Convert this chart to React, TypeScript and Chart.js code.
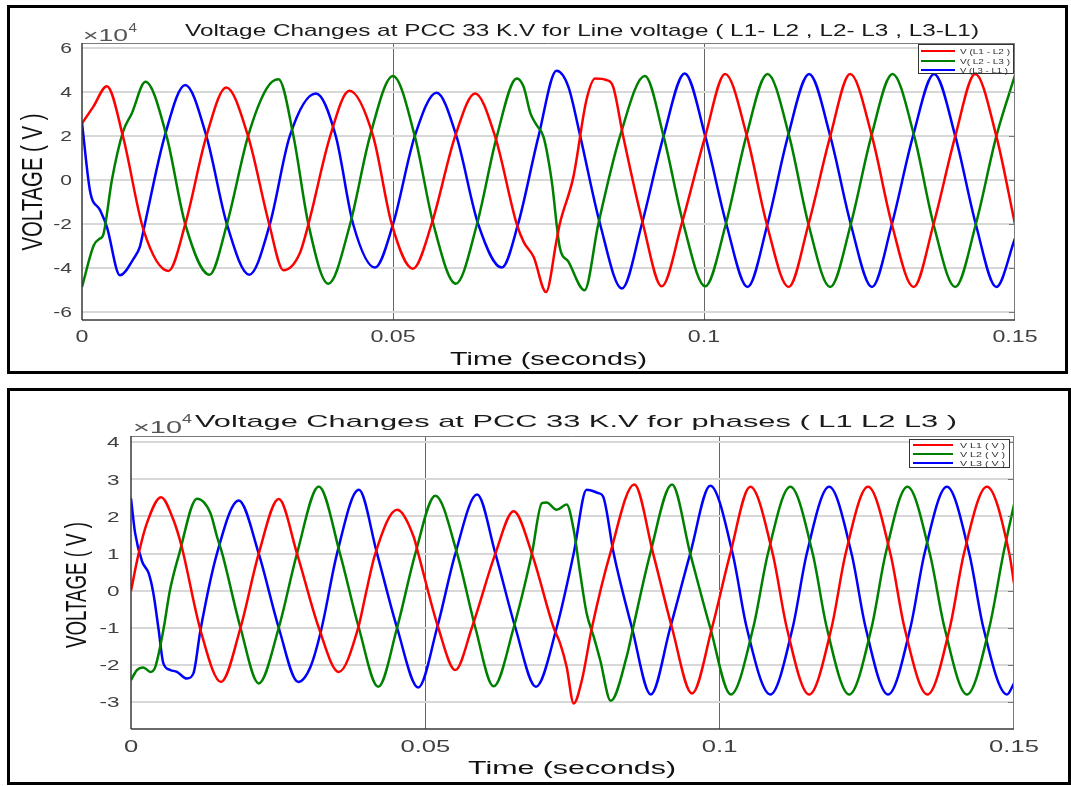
import React, { useEffect, useRef } from 'react';
import { Chart, registerables } from 'chart.js';

Chart.register(...registerables);

// ---------- Text ----------
const TOP_TITLE = 'Voltage Changes at PCC 33 K.V for Line voltage ( L1- L2 , L2- L3 , L3-L1)';
const BOTTOM_TITLE = 'Voltage Changes at PCC 33 K.V for phases ( L1 L2 L3 )';
const X_TITLE = 'Time (seconds)';
const Y_TITLE = 'VOLTAGE ( V )';
const TOP_LEGEND = ['V (L1 - L2 )', 'V( L2 - L3 )', 'V (L3 - L1 )'];
const BOTTOM_LEGEND = ['V L1 ( V )', 'V L2 ( V )', 'V L3 ( V )'];

// ---------- Ticks ----------
const X_TICKS = [0, 0.05, 0.1, 0.15];
const X_TICK_LABELS = ['0', '0.05', '0.1', '0.15'];
const TOP_Y_TICKS = [-6, -4, -2, 0, 2, 4, 6];
const BOTTOM_Y_TICKS = [-3, -2, -1, 0, 1, 2, 3, 4];

// ---------- Data: [time (s), voltage (x10^4 V)] ----------
const topL1L2: number[][] = [
  [0, 2.58], [0.0018, 3.33], [0.004, 4.27], [0.0066, 1.97], [0.0099, -2.27], [0.0139, -4.12],
  [0.0166, -2.0], [0.02, 2.0], [0.0232, 4.21], [0.0267, 2.0], [0.0301, -2.0], [0.0324, -4.09],
  [0.035, -3.33], [0.0364, -2.0], [0.0399, 2.0], [0.043, 4.06], [0.0468, 2.0], [0.0498, -2.0],
  [0.0532, -4.02], [0.0562, -2.0], [0.06, 2.0], [0.0632, 3.94], [0.0664, 2.0], [0.0699, -2.0],
  [0.071, -2.8], [0.0726, -3.48], [0.0746, -5.08], [0.0763, -2.73], [0.0768, -2.0], [0.079, 0.15],
  [0.0811, 3.64], [0.0825, 4.62], [0.0843, 4.55], [0.0854, 4.24], [0.087, 2.0], [0.0902, -2.0],
  [0.0932, -4.82], [0.0964, -2.0], [0.1002, 2.0], [0.1034, 4.82], [0.1069, 2.0], [0.1101, -2.0],
  [0.1136, -4.85], [0.1168, -2.0], [0.1203, 2.0], [0.1235, 4.82], [0.127, 2.0], [0.1302, -2.0],
  [0.1337, -4.85], [0.1369, -2.0], [0.1404, 2.0], [0.1436, 4.82], [0.147, 2.0], [0.15, -2.0],
];
const topL2L3: number[][] = [
  [0, -4.85], [0.0019, -2.95], [0.0029, -2.65], [0.0034, -2.5], [0.0048, 0], [0.0066, 2.2],
  [0.008, 3.03], [0.0102, 4.47], [0.0136, 2.0], [0.0166, -2.0], [0.0205, -4.29], [0.0233, -2.0],
  [0.0267, 2.0], [0.0297, 4.17], [0.0316, 4.58], [0.034, 2.0], [0.0364, -2.0], [0.0396, -4.7],
  [0.0431, -2.0], [0.0463, 2.0], [0.05, 4.73], [0.0535, 2.0], [0.0565, -2.0], [0.0601, -4.7],
  [0.0635, -2.0], [0.0667, 2.0], [0.0699, 4.62], [0.071, 4.24], [0.0721, 3.03], [0.0731, 2.5],
  [0.0742, 1.97], [0.0755, 0], [0.0768, -3.03], [0.0782, -3.7], [0.0808, -5.0], [0.083, -2.0],
  [0.0865, 2.0], [0.0905, 4.73], [0.0935, 2.0], [0.0967, -2.0], [0.1002, -4.82], [0.1035, -2.0],
  [0.1068, 2.0], [0.1102, 4.82], [0.1137, 2.0], [0.1168, -2.0], [0.1203, -4.85], [0.1236, -2.0],
  [0.1269, 2.0], [0.1303, 4.82], [0.1338, 2.0], [0.1369, -2.0], [0.1404, -4.85], [0.1437, -2.0],
  [0.147, 2.0], [0.15, 4.77],
];
const topL3L1: number[][] = [
  [0, 2.6], [0.0013, -0.5], [0.0029, -1.36], [0.004, -2.12], [0.0061, -4.32], [0.0083, -3.56],
  [0.0093, -3.03], [0.0101, -2.0], [0.0133, 2.0], [0.0166, 4.32], [0.02, 2.0], [0.0233, -2.0],
  [0.0269, -4.29], [0.0302, -2.0], [0.0334, 2.0], [0.0376, 3.94], [0.0408, 2.0], [0.0436, -2.0],
  [0.0471, -3.97], [0.05, -2.0], [0.0535, 2.0], [0.057, 3.97], [0.0602, 2.0], [0.0637, -2.0],
  [0.0675, -3.97], [0.0701, -2.0], [0.0734, 2.0], [0.0763, 4.97], [0.0782, 4.24], [0.0801, 2.0],
  [0.0833, -2.0], [0.0868, -4.92], [0.09, -2.0], [0.0935, 2.0], [0.0969, 4.85], [0.1002, 2.0],
  [0.1036, -2.0], [0.107, -4.85], [0.1102, -2.0], [0.1135, 2.0], [0.1169, 4.82], [0.1203, 2.0],
  [0.1236, -2.0], [0.127, -4.85], [0.1302, -2.0], [0.1336, 2.0], [0.137, 4.82], [0.1404, 2.0],
  [0.1437, -2.0], [0.147, -4.85], [0.15, -2.65],
];

const botL1: number[][] = [
  [0, 0], [0.0013, 1.0], [0.0027, 1.82], [0.0051, 2.52], [0.0072, 1.91], [0.0086, 1.19],
  [0.0118, -1.06], [0.0153, -2.46], [0.0186, -1.0], [0.0217, 1.0], [0.0251, 2.47], [0.0282, 1.0],
  [0.0319, -1.0], [0.0353, -2.19], [0.0386, -1.0], [0.04, 0], [0.0415, 1.0], [0.0452, 2.18],
  [0.048, 1.46], [0.0488, 1.0], [0.0522, -1.0], [0.0551, -2.14], [0.0579, -1.0], [0.0619, 1.0],
  [0.065, 2.14], [0.0681, 1.0], [0.0718, -1.0], [0.0729, -1.42], [0.074, -2.05], [0.0752, -3.04],
  [0.0766, -2.41], [0.0783, -1.0], [0.0814, 1.0], [0.0855, 2.86], [0.0887, 1.0], [0.0919, -1.0],
  [0.0953, -2.77], [0.0987, -1.0], [0.1018, 1.0], [0.1052, 2.8], [0.109, 1.0], [0.1114, -1.0],
  [0.1152, -2.8], [0.119, -1.0], [0.1214, 1.0], [0.1252, 2.8], [0.129, 1.0], [0.1314, -1.0],
  [0.1353, -2.8], [0.1391, -1.0], [0.1415, 1.0], [0.1454, 2.8], [0.1492, 1.0], [0.15, 0.2],
];
const botL2: number[][] = [
  [0, -2.41], [0.001, -2.14], [0.0021, -2.07], [0.0033, -2.19], [0.0041, -2.07], [0.0055, -1.06],
  [0.0066, 0], [0.0082, 1.0], [0.0112, 2.48], [0.0135, 2.09], [0.0146, 1.46], [0.0155, 1.0],
  [0.0186, -1.0], [0.0217, -2.5], [0.0251, -1.0], [0.0282, 1.0], [0.0319, 2.81], [0.0355, 1.0],
  [0.0387, -1.0], [0.042, -2.59], [0.0452, -1.0], [0.0483, 1.0], [0.0517, 2.56], [0.0554, 1.0],
  [0.0585, -1.0], [0.0616, -2.58], [0.065, -1.0], [0.0681, 1.0], [0.0698, 2.36], [0.0706, 2.38],
  [0.0723, 2.18], [0.074, 2.32], [0.0752, 1.64], [0.0763, 0.47], [0.0774, -0.61], [0.0786, -1.24],
  [0.0797, -1.87], [0.0815, -2.97], [0.0842, -1.78], [0.0853, -1.0], [0.0882, 1.0], [0.0919, 2.86],
  [0.095, 1.0], [0.0984, -1.0], [0.1019, -2.8], [0.1057, -1.0], [0.1082, 1.0], [0.112, 2.8],
  [0.1158, 1.0], [0.1182, -1.0], [0.122, -2.8], [0.1258, -1.0], [0.1282, 1.0], [0.1319, 2.8],
  [0.1357, 1.0], [0.1382, -1.0], [0.142, -2.8], [0.1458, -1.0], [0.1482, 1.0], [0.15, 2.32],
];
const botL3: number[][] = [
  [0, 2.49], [0.0007, 1.55], [0.0019, 0.78], [0.003, 0.47], [0.0038, -0.07], [0.0047, -1.06],
  [0.0055, -1.96], [0.0067, -2.14], [0.0078, -2.19], [0.0095, -2.37], [0.0106, -2.23], [0.0118, -1.06],
  [0.0146, 1.0], [0.0183, 2.43], [0.0217, 1.0], [0.0251, -1.0], [0.0284, -2.46], [0.0305, -2.05],
  [0.0324, -1.0], [0.035, 1.0], [0.0387, 2.72], [0.0418, 1.0], [0.0452, -1.0], [0.0488, -2.61],
  [0.052, -1.0], [0.0551, 1.0], [0.0588, 2.59], [0.0619, 1.0], [0.0653, -1.0], [0.0688, -2.59],
  [0.0723, -1.0], [0.0752, 1.0], [0.0774, 2.72], [0.0794, 2.63], [0.0802, 2.54], [0.082, 1.0],
  [0.0851, -1.0], [0.0883, -2.8], [0.0916, -1.0], [0.095, 1.0], [0.0984, 2.83], [0.1022, 1.0],
  [0.1046, -1.0], [0.1086, -2.8], [0.1124, -1.0], [0.1148, 1.0], [0.1186, 2.8], [0.1224, 1.0],
  [0.1248, -1.0], [0.1286, -2.8], [0.1324, -1.0], [0.1348, 1.0], [0.1386, 2.8], [0.1424, 1.0],
  [0.1448, -1.0], [0.1488, -2.8], [0.15, -2.5],
];

const COLORS = ['#ff0000', '#008000', '#0000ff'];
const FONT = '"Liberation Sans", Arial, Helvetica, sans-serif';

function drawFit(
  ctx: CanvasRenderingContext2D, text: string, x: number, y: number, size: number,
  o: { w?: number; sx?: number; align?: CanvasTextAlign; base?: CanvasTextBaseline; color?: string; rot?: boolean }
) {
  ctx.save();
  ctx.font = `${size}px ${FONT}`;
  const m = ctx.measureText(text).width;
  const sx = o.w ? o.w / m : (o.sx ?? 1);
  ctx.translate(x, y);
  if (o.rot) ctx.rotate(-Math.PI / 2);
  ctx.scale(sx, 1);
  ctx.textAlign = o.align ?? 'left';
  ctx.textBaseline = o.base ?? 'alphabetic';
  ctx.fillStyle = o.color ?? '#222';
  ctx.fillText(text, 0, 0);
  ctx.restore();
}

type Cfg = {
  oy: number; h: number;
  area: { l: number; t: number; r: number; b: number };
  yMin: number; yMax: number; yTicks: number[];
  series: number[][][]; labels: string[];
  title: string; titleX: number; titleBase: number; titleW: number;
  exp: { x: number; base: number; w: number; sx: number; sbase: number; sw: number; ssize: number };
  xTick: { base: number; size: number; sx: number };
  yTick: { right: number; size: number; sx: number };
  xTitle: { cx: number; base: number; w: number };
  yTitle: { bx: number; cy: number; len: number };
  legend: { x0: number; y0: number; x1: number; y1: number; lx0: number; lx1: number; rows: number[]; tx: number; tw: number[] };
};

const TOP: Cfg = {
  oy: 0, h: 380,
  area: { l: 82, t: 43, r: 1015, b: 320 },
  yMin: -6.35, yMax: 6.23, yTicks: TOP_Y_TICKS,
  series: [topL1L2, topL2L3, topL3L1], labels: TOP_LEGEND,
  title: TOP_TITLE, titleX: 185, titleBase: 36, titleW: 794,
  exp: { x: 83, base: 40.5, w: 45, sx: 128.5, sbase: 32, sw: 8.5, ssize: 12 },
  xTick: { base: 342, size: 16, sx: 1.45 },
  yTick: { right: 72, size: 15, sx: 1.4 },
  xTitle: { cx: 548.5, base: 365, w: 197 },
  yTitle: { bx: 41.7, cy: 182, len: 137 },
  legend: { x0: 918, y0: 44, x1: 1014, y1: 74, lx0: 921, lx1: 955, rows: [51, 61, 70], tx: 960, tw: [50, 50, 48] },
};

const BOTTOM: Cfg = {
  oy: 380, h: 406,
  area: { l: 131, t: 436, r: 1014, b: 729 },
  yMin: -3.73, yMax: 4.17, yTicks: BOTTOM_Y_TICKS,
  series: [botL1, botL2, botL3], labels: BOTTOM_LEGEND,
  title: BOTTOM_TITLE, titleX: 195, titleBase: 427, titleW: 762,
  exp: { x: 133, base: 432.5, w: 49, sx: 182, sbase: 422.5, sw: 10, ssize: 13 },
  xTick: { base: 752, size: 16, sx: 1.6 },
  yTick: { right: 119.5, size: 15, sx: 1.5 },
  xTitle: { cx: 572, base: 774, w: 208 },
  yTitle: { bx: 86, cy: 585, len: 126 },
  legend: { x0: 909, y0: 439, x1: 1010, y1: 468, lx0: 913, lx1: 953, rows: [445, 454, 463], tx: 960, tw: [45, 45, 45] },
};

function makeDeco(cfg: Cfg) {
  return {
    id: 'deco',
    afterDraw(chart: any) {
      const ctx: CanvasRenderingContext2D = chart.ctx;
      const oy = cfg.oy;
      const xs = chart.scales.x;
      const ys = chart.scales.y;
      const a = chart.chartArea;
      ctx.save();
      ctx.lineWidth = 1;
      ctx.strokeStyle = '#7a7a7a';
      ctx.beginPath();
      ctx.moveTo(a.left, a.top + 0.5); ctx.lineTo(a.right, a.top + 0.5);
      ctx.moveTo(a.right - 0.5, a.top); ctx.lineTo(a.right - 0.5, a.bottom);
      ctx.stroke();
      ctx.lineWidth = 1.5;
      ctx.strokeStyle = '#3a3a3a';
      ctx.beginPath();
      ctx.moveTo(a.left, a.top); ctx.lineTo(a.left, a.bottom);
      ctx.moveTo(a.left, a.bottom); ctx.lineTo(a.right, a.bottom);
      ctx.stroke();
      ctx.lineWidth = 1;
      ctx.strokeStyle = '#777';
      ctx.beginPath();
      cfg.yTicks.forEach((v) => {
        const py = Math.round(ys.getPixelForValue(v)) + 0.5;
        ctx.moveTo(a.right - 6, py); ctx.lineTo(a.right, py);
      });
      ctx.stroke();
      ctx.restore();

      X_TICKS.forEach((v, i) => {
        drawFit(ctx, X_TICK_LABELS[i], xs.getPixelForValue(v), cfg.xTick.base - oy, cfg.xTick.size,
          { sx: cfg.xTick.sx, align: 'center', color: '#404040' });
      });
      cfg.yTicks.forEach((v) => {
        drawFit(ctx, String(v), cfg.yTick.right, ys.getPixelForValue(v) + 1, cfg.yTick.size,
          { sx: cfg.yTick.sx, align: 'right', base: 'middle', color: '#404040' });
      });
      drawFit(ctx, X_TITLE, cfg.xTitle.cx, cfg.xTitle.base - oy, 18, { w: cfg.xTitle.w, align: 'center', color: '#111' });
      drawFit(ctx, Y_TITLE, cfg.yTitle.bx, cfg.yTitle.cy - oy, 29, { w: cfg.yTitle.len, align: 'center', color: '#111', rot: true });
      drawFit(ctx, cfg.title, cfg.titleX, cfg.titleBase - oy, 17, { w: cfg.titleW, color: '#1a1a1a' });
      drawFit(ctx, '\u00d710', cfg.exp.x, cfg.exp.base - oy, 17, { w: cfg.exp.w, color: '#555' });
      drawFit(ctx, '4', cfg.exp.sx, cfg.exp.sbase - oy, cfg.exp.ssize, { w: cfg.exp.sw, color: '#555' });

      const L = cfg.legend;
      ctx.save();
      ctx.fillStyle = '#fff';
      ctx.fillRect(L.x0, L.y0 - oy, L.x1 - L.x0, L.y1 - L.y0);
      ctx.strokeStyle = '#333';
      ctx.lineWidth = 1;
      ctx.strokeRect(L.x0 + 0.5, L.y0 - oy + 0.5, L.x1 - L.x0 - 1, L.y1 - L.y0 - 1);
      ctx.lineWidth = 2;
      cfg.labels.forEach((lab, i) => {
        const ry = L.rows[i] - oy;
        ctx.strokeStyle = COLORS[i];
        ctx.beginPath();
        ctx.moveTo(L.lx0, ry); ctx.lineTo(L.lx1, ry);
        ctx.stroke();
        drawFit(ctx, lab, L.tx, ry + 0.5, 8, { w: L.tw[i], base: 'middle', color: '#333' });
      });
      ctx.restore();
    },
  };
}

function Panel({ cfg }: { cfg: Cfg }) {
  const ref = useRef<HTMLCanvasElement>(null);
  useEffect(() => {
    const canvas = ref.current!;
    const chart = new Chart(canvas, {
      type: 'line',
      data: {
        datasets: cfg.series.map((s, i) => ({
          label: cfg.labels[i],
          data: s.map(([x, y]) => ({ x, y })),
          borderColor: COLORS[i],
          backgroundColor: COLORS[i],
          borderWidth: 2.5,
          pointRadius: 0,
          fill: false,
          cubicInterpolationMode: 'monotone' as const,
        })),
      },
      options: {
        animation: false,
        responsive: false,
        devicePixelRatio: 1,
        events: [],
        layout: {
          padding: {
            left: cfg.area.l,
            top: cfg.area.t - cfg.oy,
            right: 1071 - cfg.area.r,
            bottom: cfg.oy + cfg.h - cfg.area.b,
          },
        },
        plugins: {
          legend: { display: false },
          title: { display: false },
          tooltip: { enabled: false },
        },
        scales: {
          x: {
            type: 'linear',
            min: 0,
            max: 0.15,
            ticks: { display: false },
            border: { display: false },
            grid: {
              drawTicks: false,
              lineWidth: 1,
              color: (c: any) => {
                const v = c.tick ? c.tick.value : -1;
                return Math.abs(v - 0.05) < 1e-9 || Math.abs(v - 0.1) < 1e-9 ? '#666' : 'rgba(0,0,0,0)';
              },
            },
            afterBuildTicks: (ax: any) => { ax.ticks = X_TICKS.map((value) => ({ value })); },
            afterFit: (ax: any) => { ax.height = 0; },
          },
          y: {
            type: 'linear',
            min: cfg.yMin,
            max: cfg.yMax,
            ticks: { display: false },
            border: { display: false },
            grid: { drawTicks: false, lineWidth: 2, color: '#d8d8d8' },
            afterBuildTicks: (ax: any) => { ax.ticks = cfg.yTicks.map((value) => ({ value })); },
            afterFit: (ax: any) => { ax.width = 0; },
          },
        },
      },
      plugins: [makeDeco(cfg)],
    } as any);
    return () => chart.destroy();
  }, [cfg]);
  return (
    <canvas
      ref={ref}
      width={1071}
      height={cfg.h}
      style={{ position: 'absolute', left: 0, top: cfg.oy, width: 1071, height: cfg.h, display: 'block' }}
    />
  );
}

export default function App() {
  return (
    <div style={{ position: 'fixed', left: 0, top: 0, width: 1071, height: 786, background: '#fff', overflow: 'hidden' }}>
      <div style={{ position: 'absolute', left: 7, top: 5, width: 1061, height: 369, border: '3px solid #000', boxSizing: 'border-box' }} />
      <div style={{ position: 'absolute', left: 7, top: 388, width: 1064, height: 397, border: '3px solid #000', boxSizing: 'border-box' }} />
      <Panel cfg={TOP} />
      <Panel cfg={BOTTOM} />
    </div>
  );
}
